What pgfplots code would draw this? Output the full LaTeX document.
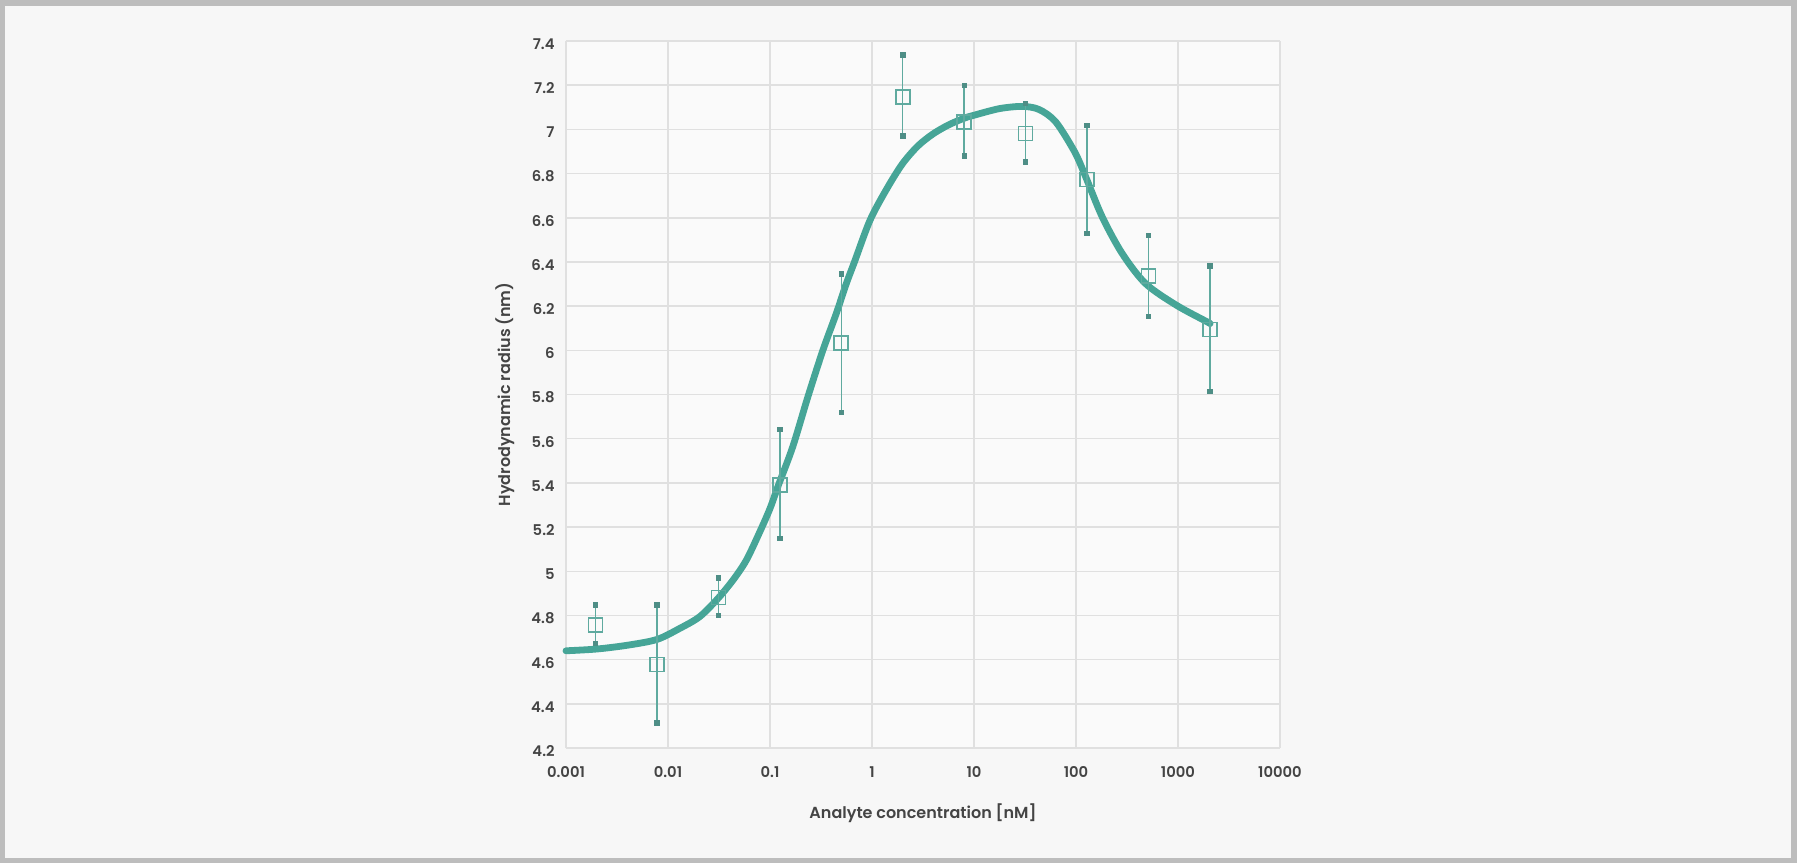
\documentclass[border=0pt]{standalone}
\usepackage{fontspec}
\setmainfont{Poppins}[BoldFont={* SemiBold}]
\usepackage{pgfplots}
\pgfplotsset{compat=1.18}
\definecolor{bgc}{HTML}{F7F7F7}
\definecolor{brd}{HTML}{BDBDBD}
\definecolor{plotbg}{HTML}{FAFAFA}
\definecolor{gridc}{HTML}{E0E0E0}
\definecolor{txt}{HTML}{444444}
\definecolor{curvec}{HTML}{46A597}
\definecolor{mkc}{HTML}{5FAA9F}
\definecolor{capc}{HTML}{4E8E86}
\begin{document}
\begin{tikzpicture}
\fill[brd] (-283pt,-57.5pt) rectangle (615.5pt,374pt);
\fill[bgc] (-280.5pt,-55pt) rectangle (612.5pt,371pt);
\begin{axis}[
  scale only axis, width=357pt, height=353.5pt,
  xmode=log, xmin=0.001, xmax=10000, ymin=4.2, ymax=7.4,
  xtick={0.001,0.01,0.1,1,10,100,1000,10000},
  xticklabels={0.001,0.01,0.1,1,10,100,1000,10000},
  ytick={4.2,4.4,...,7.41},
  yticklabels={4.2,4.4,4.6,4.8,5,5.2,5.4,5.6,5.8,6,6.2,6.4,6.6,6.8,7,7.2,7.4},
  minor xtick={}, log basis x=10,
  axis background/.style={fill=plotbg},
  axis line style={draw=none},
  major tick length=0pt,
  grid=major, major grid style={gridc, line width=0.75pt},
  tick label style={font=\fontsize{7.4}{9}\selectfont\bfseries, text=txt},
  yticklabel style={anchor=east, inner sep=0pt, xshift=-5.5pt, yshift=-1.5pt},
  xticklabel style={anchor=north, inner sep=0pt, yshift=-9pt},
  xlabel={Analyte concentration [nM]},
  ylabel={Hydrodynamic radius (nm)},
  label style={font=\fontsize{8}{9}\selectfont\bfseries, text=txt},
  x label style={at={(axis description cs:0.5,-0.092)}, anchor=center},
  y label style={at={(axis description cs:-0.0854,0.5)}, anchor=center, rotate=0},
  clip=false,
]
\addplot[curvec, line width=3.4pt, smooth, tension=0.5, line join=round, line cap=round] coordinates {
(0.001,4.640) (0.002,4.648) (0.00398,4.665) (0.00776,4.691) (0.0130,4.741)
(0.0204,4.794) (0.0305,4.874) (0.0434,4.960) (0.0586,5.05) (0.0794,5.178)
(0.1,5.284) (0.121,5.390) (0.167,5.563) (0.235,5.789) (0.330,6.0)
(0.446,6.166) (0.558,6.30) (0.673,6.40) (0.959,6.590) (1.413,6.735)
(1.995,6.845) (2.818,6.925) (3.981,6.98) (5.623,7.02) (7.943,7.05)
(10,7.064) (17.78,7.094) (29.85,7.104) (43.45,7.090) (63.24,7.034)
(97.05,6.898) (124.5,6.785) (180.7,6.604) (283.8,6.438) (480.8,6.302)
(966.1,6.204) (1928,6.129) (2046,6.122)
};
\addplot[mkc, line width=0.75pt, only marks, mark=square, mark size=3.5pt, mark options={line width=0.8pt},
  error bars/.cd, y dir=both, y explicit,
  error bar style={mkc, line width=0.75pt},
  error mark=square*, error mark options={capc, mark size=1.1pt}]
  table[x=x, y=y, y error plus=ep, y error minus=em] {
x y ep em
0.001953125 4.756 0.092 0.083
0.0078125 4.578 0.270 0.264
0.03125 4.881 0.089 0.080
0.125 5.390 0.253 0.242
0.5 6.033 0.313 0.314
2 7.147 0.191 0.177
8 7.034 0.166 0.154
32 6.981 0.136 0.129
128 6.773 0.246 0.244
512 6.337 0.184 0.183
2048 6.094 0.288 0.279
};
\end{axis}
\end{tikzpicture}
\end{document}
